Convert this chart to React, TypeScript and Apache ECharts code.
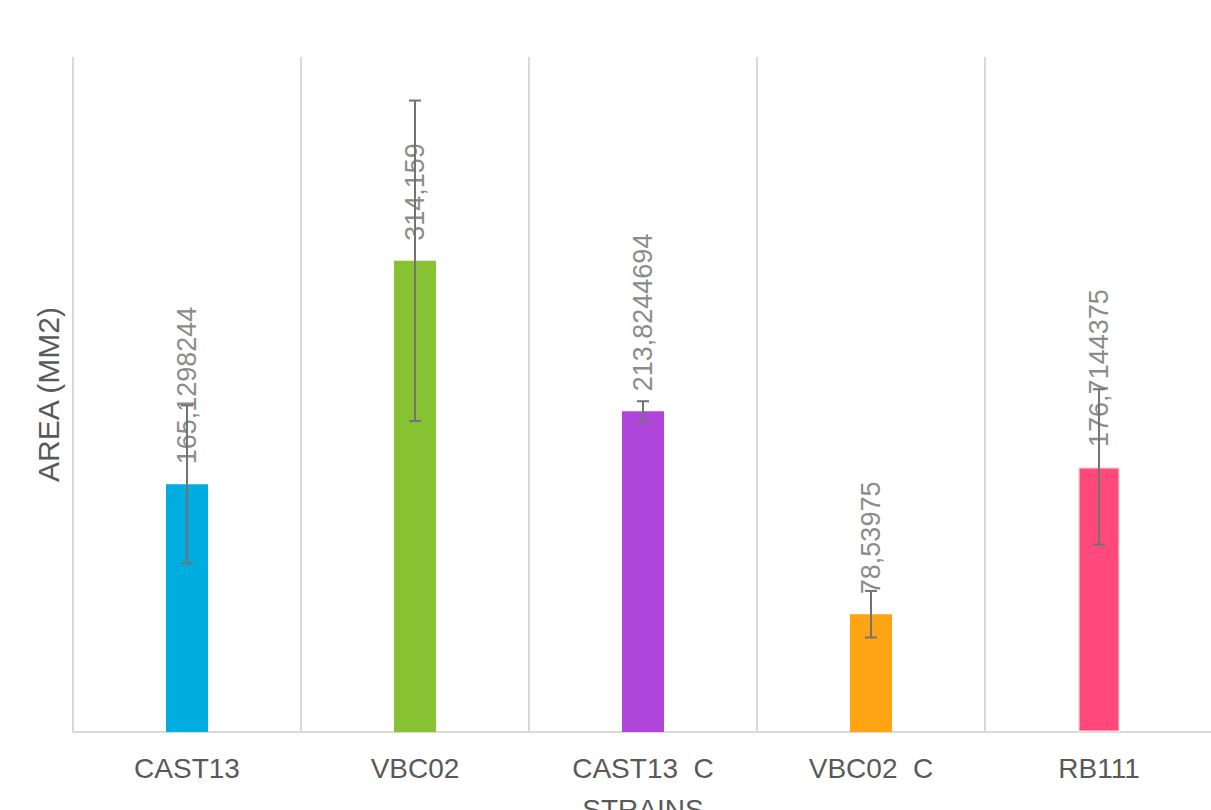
import React, { useEffect, useRef } from "react";
import * as echarts from "echarts";

const categories = ["CAST13", "VBC02", "CAST13  C", "VBC02  C", "RB111"];
const values = [165.1298244, 314.159, 213.8244694, 78.53975, 176.7144375];
const labels = ["165,1298244", "314,159", "213,8244694", "78,53975", "176,7144375"];
const errors = [52.6, 106.8, 6.7, 15.5, 51.8];
const colors = ["#00ADE1", "#86C232", "#AF45DB", "#FFA412", "#FF497C"];

export default function App() {
  const ref = useRef<HTMLDivElement>(null);
  useEffect(() => {
    const chart = echarts.init(ref.current!, null, { renderer: "svg" });
    const font = "Liberation Sans, Arial, sans-serif";
    chart.setOption({
      animation: false,
      backgroundColor: "#ffffff",
      grid: { left: 73, top: 57, width: 1140, bottom: 78, containLabel: false, outerBoundsMode: "none" },
      xAxis: {
        type: "category",
        data: categories,
        name: "STRAINS",
        nameLocation: "middle",
        nameGap: 63,
        nameTextStyle: { fontSize: 28, color: "#595959", fontFamily: font },
        axisLine: { show: true, lineStyle: { color: "#D9D9D9", width: 2 } },
        axisTick: { show: false },
        axisLabel: { fontSize: 28, color: "#595959", fontFamily: font, margin: 22 },
        splitLine: { show: true, lineStyle: { color: "#D9D9D9", width: 2 } },
      },
      yAxis: {
        type: "value",
        min: 0,
        max: 450,
        name: "AREA (MM2)",
        nameLocation: "middle",
        nameGap: 10,
        nameTextStyle: { fontSize: 30, color: "#595959", fontFamily: font },
        axisLine: { show: false },
        axisTick: { show: false },
        axisLabel: { show: false },
        splitLine: { show: false },
      },
      series: [
        {
          type: "bar",
          barWidth: 42,
          data: values.map((v, i) => ({
            value: v,
            itemStyle: {
              color: colors[i],
              borderColor: i === 4 ? "#EFE8DA" : colors[i],
              borderWidth: i === 4 ? 1.5 : 0,
            },
          })),
          label: {
            show: true,
            position: "top",
            rotate: 90,
            align: "left",
            verticalAlign: "middle",
            distance: 20,
            fontSize: 27,
            color: "#8C8C8C",
            fontFamily: font,
            formatter: (p: any) => labels[p.dataIndex],
          },
          z: 2,
        },
        {
          type: "custom",
          z: 5,
          data: values.map((v, i) => [i, v - errors[i], v + errors[i]]),
          encode: { x: 0, y: [1, 2] },
          renderItem: (params: any, api: any) => {
            const idx = api.value(0);
            const lo = api.coord([idx, api.value(1)]);
            const hi = api.coord([idx, api.value(2)]);
            const hw = 6;
            const style = { stroke: "#737373", lineWidth: 2 };
            return {
              type: "group",
              children: [
                { type: "line", shape: { x1: lo[0], y1: lo[1], x2: hi[0], y2: hi[1] }, style },
                { type: "line", shape: { x1: lo[0] - hw, y1: lo[1], x2: lo[0] + hw, y2: lo[1] }, style },
                { type: "line", shape: { x1: hi[0] - hw, y1: hi[1], x2: hi[0] + hw, y2: hi[1] }, style },
              ],
            };
          },
        },
      ],
    });
    return () => chart.dispose();
  }, []);
  return (
    <div
      ref={ref}
      style={{ position: "fixed", left: 0, top: 0, width: 1211, height: 810, background: "#fff" }}
    />
  );
}
